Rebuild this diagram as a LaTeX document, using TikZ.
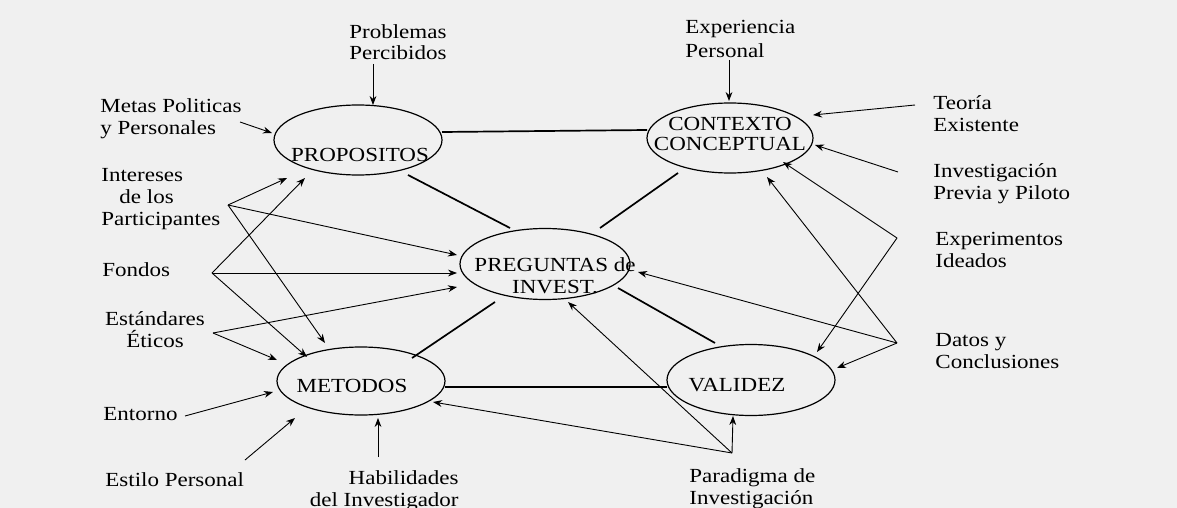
\documentclass[tikz,border=0pt]{standalone}
\usepackage{fontspec}
\setmainfont[FakeStretch=1.15]{Liberation Serif}
\usetikzlibrary{arrows.meta,calc,shapes.geometric}
\begin{document}
\begin{tikzpicture}[x=0.5pt,y=-0.5pt,
  every node/.style={inner sep=0pt, font=\fontsize{10}{11}\selectfont},
  oval/.style={draw, ellipse, line width=0.6pt, inner sep=0pt},
  lbl/.style={align=left, anchor=north west},
  arr/.style={-{Stealth[length=4.5pt,width=3.4pt]}, line width=0.45pt},
  link/.style={line width=0.85pt}]
\fill[black!6] (0,0) rectangle (1177,508);
\useasboundingbox (0,0) rectangle (1177,508);

% ellipses
\node[oval, minimum width=84pt, minimum height=35pt] (prop) at (358,140) {};
\node[oval, minimum width=83pt, minimum height=35pt] (ctx) at (730,138) {};
\node[oval, minimum width=85pt, minimum height=35.5pt] (preg) at (545,264) {};
\node[oval, minimum width=84pt, minimum height=34pt] (met) at (361,381) {};
\node[oval, minimum width=84pt, minimum height=35.5pt] (val) at (751,380) {};

% ellipse texts
\node (propT) at (360,155) {PROPOSITOS};
\node[align=center, anchor=north, font=\fontsize{10}{10}\selectfont] (ctxT) at (730,117) {CONTEXTO\\CONCEPTUAL};
\node[align=center, anchor=north, font=\fontsize{10}{11.2}\selectfont] (pregT) at (555,257) {PREGUNTAS de\\INVEST.};
\node (metT) at (352,386) {METODOS};
\node (valT) at (737,385) {VALIDEZ};

% labels
\node[lbl, font=\fontsize{10}{10.5}\selectfont] (prob) at (349,24) {Problemas\\Percibidos};
\node[lbl, font=\fontsize{10}{12}\selectfont] (expP) at (685,20) {Experiencia\\Personal};
\node[lbl] (metas) at (100,98) {Metas Politicas\\y Personales};
\node[lbl] (inter) at (101,168) {Intereses\\\hspace*{9pt}de los\\Participantes};
\node[lbl] (fondos) at (102,262) {Fondos};
\node[align=center, anchor=north] (estand) at (155,311) {Estándares\\Éticos};
\node[lbl] (entorno) at (103,407) {Entorno};
\node[lbl] (estilo) at (105,472) {Estilo Personal};
\node[align=right, anchor=north east] (habil) at (459,470) {Habilidades\\del Investigador};
\node[lbl] (parad) at (689,468) {Paradigma de\\Investigación};
\node[lbl] (teoria) at (933,95) {Teoría\\Existente};
\node[lbl] (invP) at (933,163) {Investigación\\Previa y Piloto};
\node[lbl] (expI) at (935,232) {Experimentos\\Ideados};
\node[lbl] (datos) at (935,333) {Datos y\\Conclusiones};

% connector start points
\coordinate (probS) at (373,64);
\coordinate (metasS) at (240,122);
\coordinate (interS) at (228,205);
\coordinate (fondS) at (212,273);
\coordinate (estS) at (213,333);
\coordinate (entS) at (185,416);
\coordinate (estiloS) at (245,460);
\coordinate (habS) at (378,457);
\coordinate (parS) at (732,453);
\coordinate (expS) at (729,60);
\coordinate (teoS) at (915,105);
\coordinate (invS) at (898,172);
\coordinate (ximS) at (897,238);
\coordinate (datS) at (897,343);

% links between ellipses
\draw[link] ($(prop)+(84,-8)$) -- ($(ctx)+(-83,-8)$);
\draw[link] ($(prop)+(50,35)$) -- ($(preg)+(-35,-36)$);
\draw[link] ($(ctx)+(-52,35)$) -- ($(preg)+(55,-36)$);
\draw[link] ($(preg)+(-50,38)$) -- ($(met)+(51,-23)$);
\draw[link] ($(met)+(84,6)$) -- ($(val)+(-84,7)$);
\draw[link] ($(val)+(-36,-37)$) -- ($(preg)+(73,24)$);

% arrows
\draw[arr] (probS) -- ($(prop)+(15,-35)$);
\draw[arr] (metasS) -- ($(prop)+(-86,-7)$);
\draw[arr] (interS) -- ($(prop)+(-71,38)$);
\draw[arr] (interS) -- ($(preg)+(-88,-9)$);
\draw[arr] (interS) -- ($(met)+(-36,-38)$);
\draw[arr] (fondS) -- ($(prop)+(-53,38)$);
\draw[arr] (fondS) -- ($(preg)+(-88,9)$);
\draw[arr] (fondS) -- ($(met)+(-54,-24)$);
\draw[arr] (estS) -- ($(preg)+(-88,23)$);
\draw[arr] (estS) -- ($(met)+(-84,-21)$);
\draw[arr] (entS) -- ($(met)+(-88,11)$);
\draw[arr] (estiloS) -- ($(met)+(-66,37)$);
\draw[arr] (habS) -- ($(met)+(17,37)$);
\draw[arr] (parS) -- ($(met)+(72,21)$);
\draw[arr] (parS) -- ($(preg)+(23,38)$);
\draw[arr] (parS) -- ($(val)+(-18,36)$);
\draw[arr] (expS) -- ($(ctx)+(-1,-37)$);
\draw[arr] (teoS) -- ($(ctx)+(83,-23)$);
\draw[arr] (invS) -- ($(ctx)+(85,7)$);
\draw[arr] (ximS) -- ($(ctx)+(53,24)$);
\draw[arr] (ximS) -- ($(val)+(66,-28)$);
\draw[arr] (datS) -- ($(ctx)+(37,39)$);
\draw[arr] (datS) -- ($(val)+(86,-12)$);
\draw[arr] (datS) -- ($(preg)+(93,8)$);
\end{tikzpicture}
\end{document}
